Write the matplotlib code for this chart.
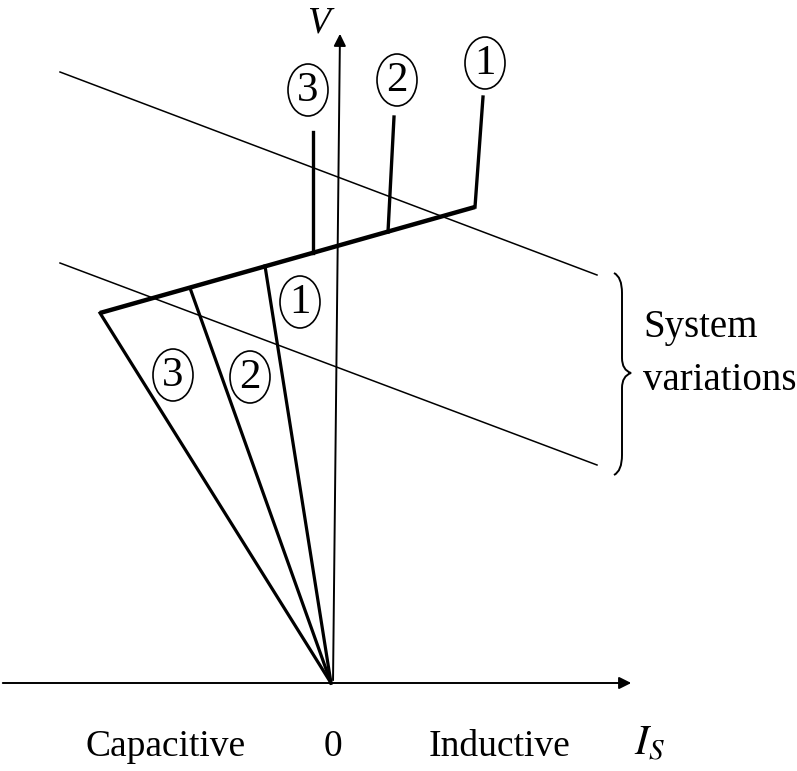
import matplotlib.pyplot as plt
from matplotlib.patches import Ellipse, PathPatch
from matplotlib.path import Path

# coordinate system: origin where the lines meet, units ~ pixels
# thick control characteristic (left corner -> right corner)
ctrl_x = [-231, 144]
ctrl_v = [370, 476]

# vertical-ish stubs above the control line (bottom, top) for curves 1, 2, 3
stub_x = {1: [144, 152], 2: [57, 63], 3: [-18, -18]}
stub_v = {1: [476, 586], 2: [451, 566], 3: [430, 551]}

# capacitor lines from control line down to origin
cap_x = {1: [-66, 0], 2: [-141, 0], 3: [-231, 0]}
cap_v = {1: [417, 0], 2: [395, 0], 3: [370, 0]}

# circled labels
top_lbl = {"1": (154, 620), "2": (66, 603), "3": (-23, 593)}
low_lbl = {"1": (-31, 381), "2": (-81, 306), "3": (-158, 308)}

# system load lines
sys_x = [-271, 266]
sys_hi = [611, 408]
sys_lo = [420, 218]

fig = plt.figure(figsize=(7.97, 7.71), dpi=100)
ax = fig.add_axes([0, 0, 1, 1])
ax.set_xlim(-331, 466)
ax.set_ylim(-88, 683)
ax.axis("off")

serif = "Liberation Serif"

# axes
ax.annotate("", xy=(303, 0), xytext=(-331, 0),
            arrowprops=dict(arrowstyle="-|>", lw=1.4, color="black", mutation_scale=18))
ax.annotate("", xy=(9, 652), xytext=(2, 0),
            arrowprops=dict(arrowstyle="-|>", lw=1.4, color="black", mutation_scale=18))

# system lines
ax.plot(sys_x, sys_hi, color="black", lw=1.1)
ax.plot(sys_x, sys_lo, color="black", lw=1.1)

# control line + stubs
ax.plot(ctrl_x, ctrl_v, color="black", lw=3.2, solid_capstyle="butt")
for k in (1, 2, 3):
    ax.plot(stub_x[k], stub_v[k], color="black", lw=2.4)
    ax.plot(cap_x[k], cap_v[k], color="black", lw=2.3)

# circled numbers
for lbls in (top_lbl, low_lbl):
    for t, (x, y) in lbls.items():
        ax.add_patch(Ellipse((x, y), 40, 52, fill=False, lw=1.2, color="black"))
        ax.text(x, y - 1, t, fontsize=31, family=serif, ha="center", va="center")

# brace
bx, top, bot, mid = 283, 410, 208, 310
verts = [(bx, top), (bx + 8, top - 4), (bx + 8, top - 20),
         (bx + 8, mid + 15), (bx + 8, mid + 3), (bx + 17, mid),
         (bx + 8, mid - 3), (bx + 8, mid - 15),
         (bx + 8, bot + 20), (bx + 8, bot + 4), (bx, bot)]
codes = [Path.MOVETO, Path.CURVE3, Path.CURVE3,
         Path.LINETO, Path.CURVE3, Path.CURVE3,
         Path.CURVE3, Path.CURVE3,
         Path.LINETO, Path.CURVE3, Path.CURVE3]
ax.add_patch(PathPatch(Path(verts, codes), fill=False, lw=1.4, color="black"))

ax.text(312, 355, "System", fontsize=28, family=serif, ha="left", va="center")
ax.text(312, 302, "variations", fontsize=28, family=serif, ha="left", va="center")

# axis labels
ax.text(-13, 660, "V", fontsize=27, family=serif, style="italic", ha="center", va="center")
ax.text(318, -60, r"$I_S$", fontsize=30, ha="center", va="center",
        math_fontfamily="stix")
ax.text(-165, -64, "Capacitive", fontsize=27, family=serif, ha="center", va="center")
ax.text(2, -64, "0", fontsize=27, family=serif, ha="center", va="center")
ax.text(169, -64, "Inductive", fontsize=27, family=serif, ha="center", va="center")

fig.savefig("out.png", dpi=100)
